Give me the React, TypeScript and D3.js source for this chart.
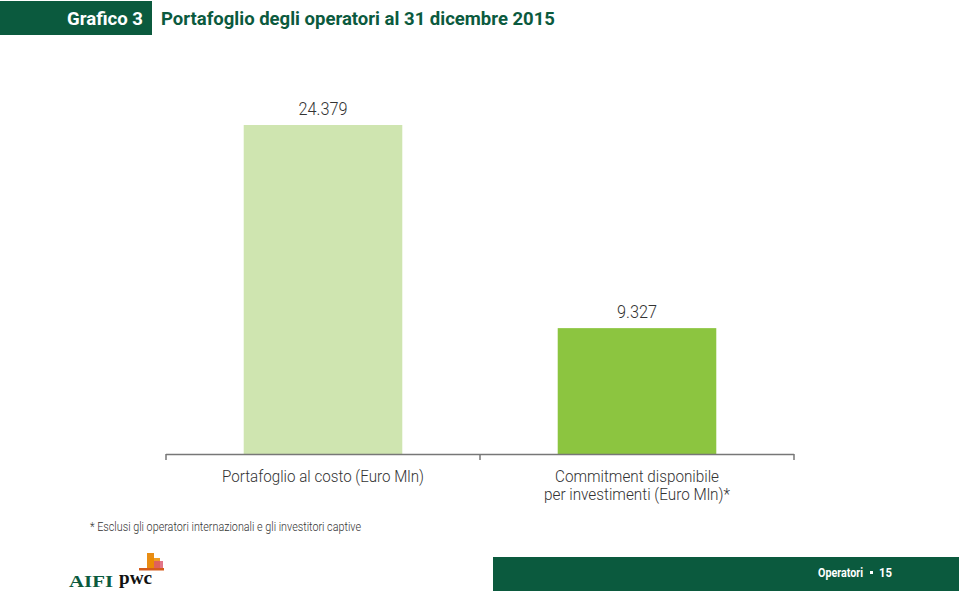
import React from "react";
import * as d3 from "d3";

const categories = ["Portafoglio al costo (Euro Mln)", "Commitment disponibile\nper investimenti (Euro Mln)*"];
const values = [24379, 9327];
const valueLabels = ["24.379", "9.327"];
const barColors = ["#cfe5b0", "#8cc540"];
const catLineWidths = [[202], [164, 186]];
const valueLabelWidths = [49, 40];

const W = 959;
const H = 595;
const FONT = "Roboto, 'Open Sans', sans-serif";
const GREEN = "#0b5a3e";

export default function App() {
  const x = d3.scaleBand<string>().domain(categories).range([166, 794]).padding(0);
  const y = d3.scaleLinear().domain([0, 24379]).range([454, 125]);
  const bw = x.bandwidth();
  const barW = bw * 0.505;
  const ticks = [166, ...categories.map((c) => (x(c) as number) + bw)];

  return (
    <svg width={W} height={H} style={{ position: "absolute", left: 0, top: 0, display: "block" }} fontFamily={FONT}>
      <rect x={0} y={0} width={W} height={H} fill="#fff" />
      {/* header */}
      <rect x={0} y={1} width={152} height={34} fill={GREEN} />
      <text x={67} y={25} fill="#fff" fontSize={19} fontWeight={700} textLength={76} lengthAdjust="spacingAndGlyphs">Grafico 3</text>
      <text x={161} y={25} fill={GREEN} fontSize={19} fontWeight={700} textLength={394} lengthAdjust="spacingAndGlyphs">Portafoglio degli operatori al 31 dicembre 2015</text>

      {/* bars */}
      {categories.map((c, i) => {
        const cx = (x(c) as number) + bw / 2;
        return (
          <g key={c}>
            <rect x={cx - barW / 2} y={y(values[i])} width={barW} height={y(0) - y(values[i])} fill={barColors[i]} />
            <text x={cx} y={y(values[i]) - 10} textAnchor="middle" fontSize={18} fontWeight={300} fill="#333" textLength={valueLabelWidths[i]} lengthAdjust="spacingAndGlyphs">{valueLabels[i]}</text>
            {c.split("\n").map((line, j) => (
              <text key={j} x={cx} y={482 + j * 18} textAnchor="middle" fontSize={16.5} fontWeight={300} fill="#333" textLength={catLineWidths[i][j]} lengthAdjust="spacingAndGlyphs">{line}</text>
            ))}
          </g>
        );
      })}

      {/* axis */}
      <line x1={166} x2={794} y1={454.5} y2={454.5} stroke="#777" strokeWidth={1.5} />
      {ticks.map((t, i) => (
        <line key={i} x1={t} x2={t} y1={454} y2={460} stroke="#777" strokeWidth={1.5} />
      ))}

      {/* footnote */}
      <text x={90} y={531} fontSize={13} fontWeight={300} fill="#333" textLength={271} lengthAdjust="spacingAndGlyphs">* Esclusi gli operatori internazionali e gli investitori captive</text>

      {/* logos */}
      <text x={69} y={587} fontFamily="'Liberation Serif', serif" fontWeight={700} fontSize={17} fill={GREEN} textLength={44} lengthAdjust="spacingAndGlyphs">AIFI</text>
      <text x={119} y={584} fontFamily="'Liberation Serif', serif" fontWeight={700} fontSize={18} fill="#111" textLength={33} lengthAdjust="spacingAndGlyphs">pwc</text>
      <rect x={139} y={568} width={25} height={2.5} fill="#d04a02" opacity={0.9} />
      <rect x={147} y={553} width={7} height={15} fill="#e88d14" />
      <rect x={150} y={558} width={10} height={10} fill="#eb8c00" opacity={0.85} />
      <rect x={154} y={561} width={9} height={7} fill="#db536a" opacity={0.8} />

      {/* footer */}
      <rect x={493} y={557} width={466} height={34} fill={GREEN} />
      <text x={818} y={577} fill="#fff" fontSize={12} fontWeight={700} textLength={45} lengthAdjust="spacingAndGlyphs">Operatori</text>
      <rect x={870} y={571} width={3} height={3} fill="#fff" />
      <text x={879} y={577} fill="#fff" fontSize={12} fontWeight={700} textLength={13} lengthAdjust="spacingAndGlyphs">15</text>
    </svg>
  );
}
